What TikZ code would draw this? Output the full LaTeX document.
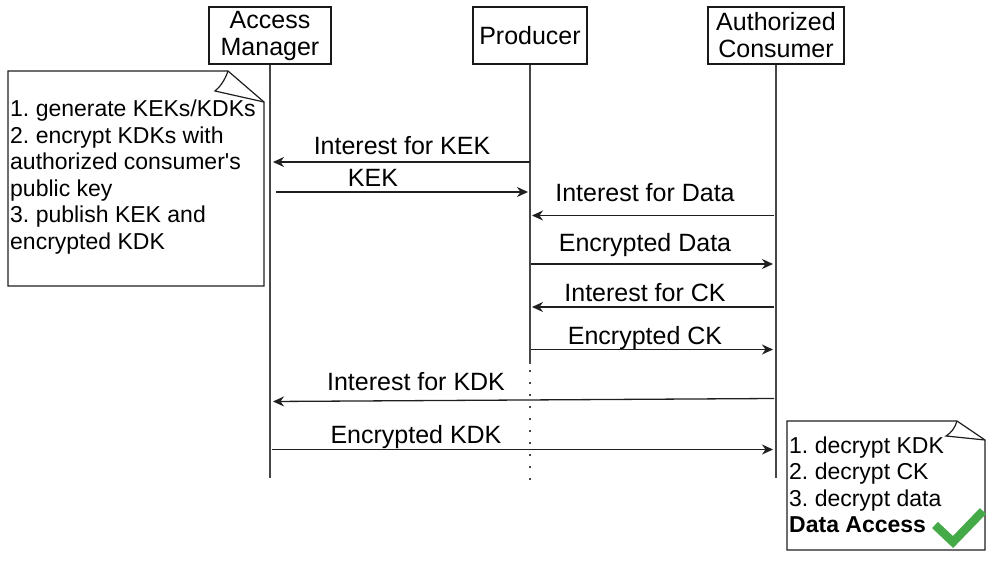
\documentclass[tikz,border=0pt]{standalone}
\usepackage{fontspec}
\setmainfont{Liberation Sans}
\frenchspacing
\usetikzlibrary{arrows.meta}
\definecolor{lifeln}{RGB}{70,70,70}
\definecolor{okgreen}{RGB}{68,170,72}
\begin{document}
\begin{tikzpicture}[x=1pt,y=-1pt,
  actor/.style={draw=black!90, line width=1.2pt, inner sep=0pt, align=center,
    font=\fontsize{25}{27}\selectfont, fill=white},
  lifeline/.style={draw=lifeln, line width=1.3pt},
  dotline/.style={draw=lifeln, line width=2.4pt, dash pattern=on 2.6pt off 9.4pt},
  msg/.style={draw=black!88, line width=1.3pt,
    -{Stealth[length=11pt,width=10pt,inset=3.5pt]}},
  msglabel/.style={anchor=base, inner sep=0pt, font=\fontsize{25}{27}\selectfont},
  notebox/.style={draw=black!88, line width=1.2pt, fill=white, line join=miter},
  notetext/.style={anchor=base west, inner sep=0pt, align=left,
    font=\fontsize{23}{26.5}\selectfont},
]
\useasboundingbox (0,0) rectangle (988,561);

% participants
\node[actor, minimum width=122pt, minimum height=57pt] (am) at (270,35.5) {Access\\Manager};
\node[actor, minimum width=114pt, minimum height=57pt] (pr) at (530,35.5) {Producer};
\node[actor, minimum width=136pt, minimum height=57pt] (ac) at (776,35.5) {Authorized\\Consumer};

% lifelines
\draw[lifeline] (am.south) -- ++(0,413) coordinate (am-end);
\draw[lifeline] (pr.south) -- ++(0,299) coordinate (pr-dots);
\draw[dotline] (pr-dots) ++(0,6) -- ++(0,110) coordinate (pr-end);
\draw[lifeline] (ac.south) -- ++(0,413) coordinate (ac-end);

% message end points on the lifelines
\coordinate (m1a) at (530,162);   \coordinate (m1b) at (273,162);
\coordinate (m2a) at (276,192);   \coordinate (m2b) at (528,192);
\coordinate (m3a) at (774,215.5); \coordinate (m3b) at (532,215.5);
\coordinate (m4a) at (531,264);   \coordinate (m4b) at (773,264);
\coordinate (m5a) at (774,307);   \coordinate (m5b) at (532,307);
\coordinate (m6a) at (531,349.5); \coordinate (m6b) at (773,349.5);
\coordinate (m7a) at (774,398.5); \coordinate (m7b) at (273,401.5);
\coordinate (m8a) at (272,449.5); \coordinate (m8b) at (773,449.5);

% messages
\draw[msg] (m1a) -- (m1b);
\draw[msg] (m2a) -- (m2b);
\draw[msg] (m3a) -- (m3b);
\draw[msg] (m4a) -- (m4b);
\draw[msg] (m5a) -- (m5b);
\draw[msg] (m6a) -- (m6b);
\draw[msg] (m7a) -- (m7b);
\draw[msg] (m8a) -- (m8b);

% message labels
\node[msglabel] (l1) at (402,154.5) {Interest for KEK};
\node[msglabel] (l2) at (373,186.5) {KEK};
\node[msglabel] (l3) at (645,202) {Interest for Data};
\node[msglabel] (l4) at (645,251.5) {Encrypted Data};
\node[msglabel] (l5) at (645,302) {Interest for CK};
\node[msglabel] (l6) at (645,344.5) {Encrypted CK};
\node[msglabel] (l7) at (416,390) {Interest for KDK};
\node[msglabel] (l8) at (416,443) {Encrypted KDK};

% note of the access manager (text node is anchored at its last baseline)
\draw[notebox] (8,71) -- (228,71) -- (264,102) -- (264,286) -- (8,286) -- cycle;
\draw[notebox, fill=none] (228,71) .. controls (225,80) and (220,87) .. (215,91) -- (264,102);
\node[notetext] (amnote) at (10,249.5)
  {1. generate KEKs/KDKs\\2. encrypt KDKs with\\authorized consumer\textquotesingle s\\public key\\3. publish KEK and\\encrypted KDK};

% note of the authorized consumer
\draw[notebox] (787,421) -- (957,421) -- (985,440) -- (985,550) -- (787,550) -- cycle;
\draw[notebox, fill=none] (957,421) .. controls (955,428) and (951,433) .. (946,436) -- (985,440);
\node[notetext] (acnote) at (789,532.5)
  {1. decrypt KDK\\2. decrypt CK\\3. decrypt data\\\textbf{Data Access}};

% check mark
\draw[okgreen, line width=8.5pt, line join=miter] (935,525) -- (953,542) -- (983,511);
\end{tikzpicture}
\end{document}
